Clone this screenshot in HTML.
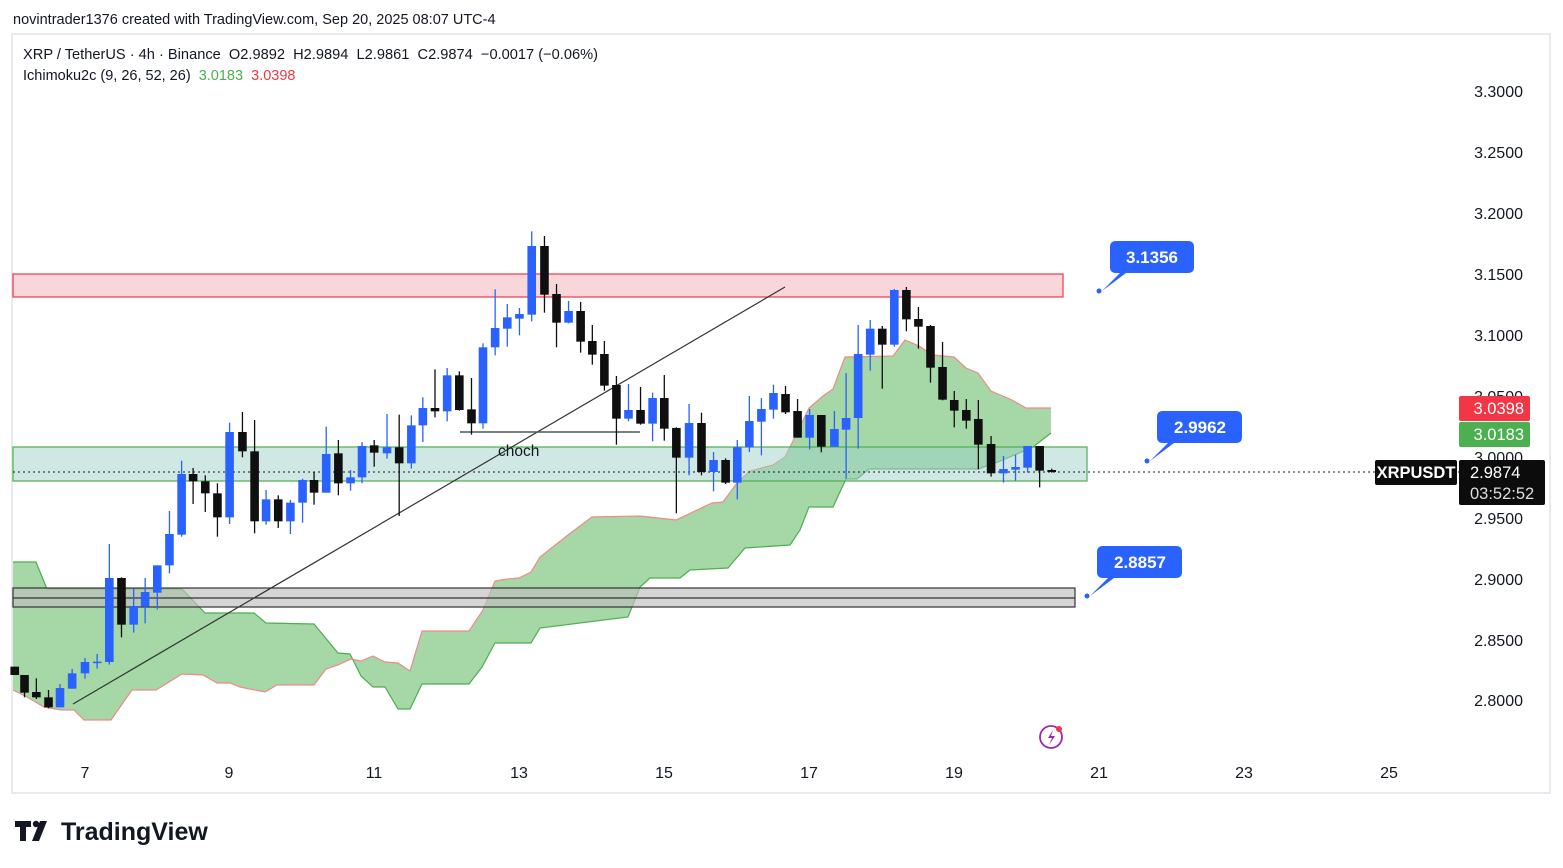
<!DOCTYPE html>
<html><head><meta charset="utf-8"><style>
body{margin:0;background:#fff;width:1563px;height:868px;overflow:hidden;font-family:"Liberation Sans",sans-serif}
svg{position:absolute;left:0;top:0}
text{white-space:pre}
</style></head><body>
<svg id="s" width="1563" height="868" xmlns="http://www.w3.org/2000/svg" font-family="Liberation Sans, sans-serif">
<rect x="0" y="0" width="1563" height="868" fill="#fff"/>
<text x="13" y="24" font-size="14.5" fill="#131722">novintrader1376 created with TradingView.com, Sep 20, 2025 08:07 UTC-4</text>
<rect x="12" y="34" width="1538" height="759" fill="none" stroke="#e0e3eb" stroke-width="1.5"/>
<g id="cloud"></g>
<rect x="13" y="274" width="1050" height="23" fill="#f9d6da" stroke="#f23645" stroke-width="1.2"/>
<rect x="13" y="447" width="1074" height="34" fill="rgba(160,210,200,0.5)" stroke="#4caf50" stroke-width="1.2"/>
<rect x="13" y="588" width="1062" height="19" fill="rgba(190,190,190,0.65)" stroke="#333" stroke-width="1.2"/>
<line x1="13" y1="598" x2="1075" y2="598" stroke="#333" stroke-width="1.2"/>
<line x1="13" y1="472" x2="1460" y2="472" stroke="#131722" stroke-width="1" stroke-dasharray="2,3"/>
<line x1="73" y1="704" x2="785" y2="287" stroke="#333" stroke-width="1.2"/>
<line x1="460" y1="432" x2="640" y2="432" stroke="#555" stroke-width="1.5"/>
<text x="498" y="456" font-size="15.5" fill="#131722">choch</text>
<g id="candles"></g>
<g font-size="17" font-weight="bold" fill="#fff">
<path d="M1110 247 q0-6 6-6 h72 q6 0 6 6 v20 q0 6-6 6 h-62 l-24 18 l18-18 h-4 q-6 0-6-6z" fill="#2962ff"/>
<circle cx="1099" cy="291" r="2.5" fill="#2962ff"/>
<text x="1152" y="263" text-anchor="middle">3.1356</text>
<path d="M1157 417 q0-6 6-6 h73 q6 0 6 6 v20 q0 6-6 6 h-62 l-24 18 l18-18 h-5 q-6 0-6-6z" fill="#2962ff"/>
<circle cx="1147" cy="461" r="2.5" fill="#2962ff"/>
<text x="1200" y="433" text-anchor="middle">2.9962</text>
<path d="M1097 552 q0-6 6-6 h73 q6 0 6 6 v20 q0 6-6 6 h-62 l-24 18 l18-18 h-5 q-6 0-6-6z" fill="#2962ff"/>
<circle cx="1087" cy="596" r="2.5" fill="#2962ff"/>
<text x="1140" y="568" text-anchor="middle">2.8857</text>
</g>
<g font-size="16" fill="#131722" text-anchor="end">
<text x="1523" y="97">3.3000</text><text x="1523" y="158">3.2500</text><text x="1523" y="219">3.2000</text>
<text x="1523" y="280">3.1500</text><text x="1523" y="341">3.1000</text><text x="1523" y="402">3.0500</text>
<text x="1523" y="463">3.0000</text><text x="1523" y="524">2.9500</text><text x="1523" y="585">2.9000</text>
<text x="1523" y="646">2.8500</text><text x="1523" y="706">2.8000</text>
</g>
<rect x="1459" y="396" width="71" height="25" rx="2" fill="#f23645"/>
<text x="1524" y="414" font-size="16.5" fill="#fff" text-anchor="end">3.0398</text>
<rect x="1459" y="422" width="71" height="25" rx="2" fill="#4caf50"/>
<text x="1524" y="440" font-size="16.5" fill="#fff" text-anchor="end">3.0183</text>
<rect x="1459" y="460" width="86" height="45" rx="2" fill="#0c0c0c"/>
<text x="1470" y="478" font-size="16.5" fill="#fff">2.9874</text>
<text x="1470" y="499" font-size="16.5" fill="#ddd">03:52:52</text>
<rect x="1375" y="460" width="82" height="25" rx="2" fill="#0c0c0c"/>
<text x="1416" y="478" font-size="16.5" font-weight="bold" fill="#fff" text-anchor="middle">XRPUSDT</text>
<g font-size="16" fill="#131722" text-anchor="middle">
<text x="85" y="778">7</text><text x="229" y="778">9</text><text x="374" y="778">11</text><text x="519" y="778">13</text>
<text x="664" y="778">15</text><text x="809" y="778">17</text><text x="954" y="778">19</text><text x="1099" y="778">21</text>
<text x="1244" y="778">23</text><text x="1389" y="778">25</text>
</g>
<circle cx="1051" cy="737" r="11" fill="none" stroke="#9c27b0" stroke-width="1.8"/>
<path d="M1053 730 l-5 8 h4 l-3 7 l6-9 h-4z" fill="#9c27b0"/>
<circle cx="1059" cy="729" r="3" fill="#f23645"/>
<text x="23" y="59" font-size="14.5" fill="#131722" textLength="575" lengthAdjust="spacingAndGlyphs">XRP / TetherUS · 4h · Binance  O2.9892  H2.9894  L2.9861  C2.9874  −0.0017 (−0.06%)</text>
<text x="23" y="80" font-size="14.5" fill="#131722">Ichimoku2c (9, 26, 52, 26)  <tspan fill="#4caf50">3.0183</tspan>  <tspan fill="#f23645">3.0398</tspan></text>
<g fill="#131722"><path d="M15 821 h16 v6 h-5 v14 h-6 v-14 h-5z"/><circle cx="36" cy="824" r="3.2"/><path d="M40 821 h7 l-8 20 h-7z"/></g>
<text x="61" y="840" font-size="25" font-weight="bold" fill="#131722">TradingView</text>
</svg>
<script>
var ns="http://www.w3.org/2000/svg";
function el(p,t,a){var e=document.createElementNS(ns,t);for(var k in a)e.setAttribute(k,a[k]);p.appendChild(e);return e;}
var g1=[[13,562],[36,562],[47,589],[182,589],[205,613],[254,613],[266,623],[314,624],[338,653],[350,654],[361,676],[373,687],[385,687],[398,709],[410,709],[422,684],[469,684],[482,667],[495,643],[531,643],[540,628],[628,617],[640,587],[650,578],[680,578],[690,570],[728,568],[745,548],[790,545],[800,530],[809,507],[833,507],[846,479],[857,479],[869,469],[978,469],[998,462],[1033,447],[1051,433]];
var r1=[[13,690],[27,697],[44,707],[61,710],[74,710],[84,720],[111,720],[132,690],[156,690],[182,674],[203,675],[217,683],[230,683],[240,687],[265,692],[277,685],[314,685],[326,669],[338,665],[351,659],[361,661],[373,656],[385,662],[398,663],[410,671],[422,631],[469,631],[483,610],[495,581],[507,579],[519,578],[531,572],[540,557],[568,535],[592,517],[640,516],[676,520],[712,503],[723,502],[737,483],[750,471],[773,465],[785,457],[795,437],[809,408],[823,396],[833,389],[845,357],[893,356],[905,340],[919,346],[933,355],[954,357],[966,368],[978,373],[991,391],[1012,400],[1026,408],[1051,408]];
var c=document.getElementById('cloud');
var pts=g1.concat(r1.slice().reverse()).map(function(p){return p.join(',')}).join(' ');
el(c,'polygon',{points:pts,fill:'rgba(76,175,80,0.5)'});
el(c,'polyline',{points:g1.map(function(p){return p.join(',')}).join(' '),fill:'none',stroke:'#4caf50','stroke-width':1.2});
el(c,'polyline',{points:r1.map(function(p){return p.join(',')}).join(' '),fill:'none',stroke:'#ef8a8a','stroke-width':1.2});
var A=[[14,'B',1340,1365,1340,1365],[43,'B',1365,1418,1365,1432],[78,'B',1416,1432,1375,1437],[114,'B',1432,1462,1410,1465],[148,'U',1404,1462,1392,1462],[184,'U',1360,1406,1347,1406],[222,'U',1326,1360,1314,1376],[258,'U',1325,1328,1302,1346],[294,'U',1074,1326,972,1334],[330,'B',1074,1214,1072,1252],[366,'U',1158,1214,1105,1238],[400,'U',1116,1160,1074,1210],[436,'U',1036,1118,1036,1168],[472,'U',942,1036,873,1060],[508,'U',762,944,722,950],[542,'B',762,784,744,852],[578,'B',784,820,766,876],[614,'B',820,892,790,950],[650,'U',636,892,608,912],[688,'B',636,694,576,712],[724,'B',694,904,600,940],[758,'U',838,904,810,914],[794,'B',838,904,826,924],[830,'U',848,904,840,942],[866,'U',780,848,776,908],[900,'B',780,818,756,854],[936,'U',702,818,620,818],[972,'B',700,790,660,826],[1008,'U',772,790,750,812],[1042,'U',678,772,666,790],[1078,'B',676,698,660,740],[1116,'U',682,700,582,716],[1152,'B',682,730,584,888],[1188,'U',616,730,586,746],[1222,'U',564,616,532,666],[1258,'B',564,574,448,592],[1294,'U',466,574,444,604],[1330,'B',466,570,454,572],[1366,'B',568,610,474,644],[1400,'U',382,610,370,626],[1436,'U',324,382,208,406],[1472,'U',292,326,252,380],[1508,'U',282,296,264,346]];
var B=[[5,'U',78,284,34,304],[42,'B',78,224,48,278],[77,'B',222,308,192,382],[112,'U',273,308,243,310],[147,'B',273,365,246,398],[181,'B',363,404,315,434],[216,'B',402,497,363,512],[251,'B',495,596,468,674],[286,'U',570,596,492,604],[321,'B',570,611,501,614],[356,'U',534,611,518,664],[390,'B',534,626,465,662],[425,'B',624,713,622,880],[462,'U',609,713,552,766],[498,'B',609,756,578,766],[533,'U',720,756,696,814],[568,'B',720,788,715,792],[602,'U',682,788,660,838],[637,'U',603,682,528,696],[672,'U',567,605,534,706],[707,'U',519,569,494,596],[742,'B',522,577,498,582],[777,'B',573,653,537,653],[812,'U',585,653,567,688],[846,'B',585,680,585,697],[884,'U',627,680,573,680],[918,'U',594,629,459,776],[953,'U',402,594,315,686],[988,'U',326,404,300,452],[1023,'B',326,374,318,506],[1058,'U',210,374,207,380],[1093,'B',210,298,201,334],[1128,'B',297,320,261,386],[1163,'B',318,443,315,488],[1198,'B',441,539,366,541],[1232,'B',540,572,513,622],[1267,'B',570,602,537,626],[1302,'B',597,674,540,748],[1339,'B',672,760,648,770],[1375,'U',747,760,708,788],[1410,'U',741,749,704,782],[1445,'U',678,743,678,758],[1480,'B',678,752,678,802],[1515,'B',750,756,746,758]];
var cg=document.getElementById('candles');
function draw(x,col,bt,bb,wt,wb){var f=col=='U'?'#2962ff':'#0f0f0f';
el(cg,'line',{x1:x,x2:x,y1:wt,y2:wb,stroke:f,'stroke-width':1.3});
el(cg,'rect',{x:x-4.3,y:bt,width:8.6,height:Math.max(bb-bt,1.5),fill:f});}
A.forEach(function(a){draw(a[0]/2.96+10,a[1],a[2]/3+220,a[3]/3+220,a[4]/3+220,a[5]/3+220)});
B.forEach(function(a){draw(a[0]/2.904+530,a[1],a[2]/3+220,a[3]/3+220,a[4]/3+220,a[5]/3+220)});
</script>
</body></html>
